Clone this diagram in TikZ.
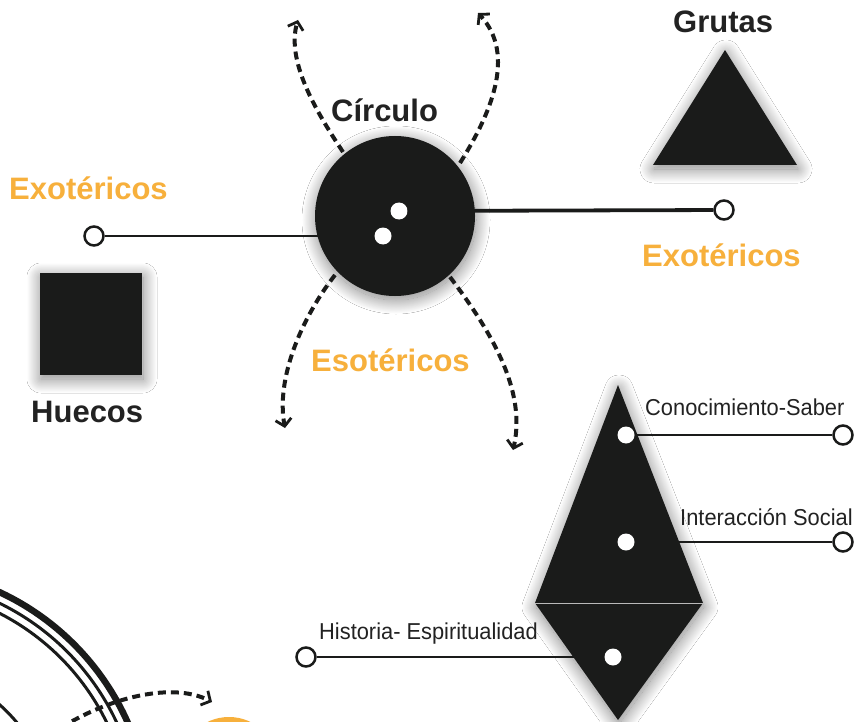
\documentclass[tikz,border=0pt]{standalone}
\usepackage{fontspec}
\setmainfont{Liberation Sans}
\usetikzlibrary{arrows.meta,shadows.blur}
\definecolor{ink}{HTML}{1A1B1A}
\definecolor{orng}{HTML}{F7B03C}
\definecolor{txt}{HTML}{222222}
\tikzset{
 shape shadow/.style={blur shadow={shadow xshift=1pt, shadow yshift=-4pt, shadow blur radius=14pt, shadow blur steps=40, shadow opacity=50}},
 bold label/.style={font=\fontsize{31}{31}\selectfont\bfseries, text=txt, inner sep=0pt, anchor=base west},
 orange label/.style={bold label, text=orng},
 small label/.style={font=\fontsize{23}{23}\selectfont, text=txt, inner sep=0pt, anchor=base west},
 dot/.style={circle, fill=white, minimum size=17pt, inner sep=0pt},
 endring/.style={circle, draw=ink, line width=2.5pt, fill=white, minimum size=19pt, inner sep=0pt},
 link/.style={draw=ink, line width=2.5pt},
 flow/.style={draw=ink, line width=4pt, dash pattern=on 8pt off 5pt, -{Straight Barb[length=7pt,width=16pt,line width=2.8pt]}},
}
\begin{document}
\begin{tikzpicture}[x=1pt,y=-1pt]
\fill[white] (0,0) rectangle (859,722);
\useasboundingbox (0,0) rectangle (859,722);

% concentric arcs bottom left and orange disc
\begin{scope}
\clip (0,0) rectangle (859,722);
\draw[ink, line width=6.5pt] (-110,828) circle[radius=260pt];
\draw[ink, line width=3pt] (-110,828) circle[radius=250pt];
\draw[ink, line width=3pt] (-110,828) circle[radius=241pt];
\draw[ink, line width=3pt] (-110,828) circle[radius=165pt];
\fill[orng] (229,766) circle[radius=49pt];
\fill[gray] (229,766) circle[radius=44pt];
\coordinate (bs) at (50,735);
\coordinate (be) at (212,702);
\draw[flow] (bs) .. controls (100,700) and (170,680) .. (be);
\end{scope}

% shapes
\node[circle, fill=ink, minimum size=160pt, inner sep=0pt, shape shadow] (circ) at (395,216) {};
\fill[ink, shape shadow] (725,50) -- (797,165) -- (653,165) -- cycle;
\node[fill=ink, minimum size=102pt, inner sep=0pt, shape shadow] (sq) at (91,324) {};
\fill[ink, shape shadow] (618,385) -- (703,603) -- (618,720) -- (535,603) -- cycle;
\draw[gray!55, line width=1.5pt] (535,603.5) -- (703,603.5);

% labels
\node[bold label] (tcirc) at (331,122) {Círculo};
\node[bold label] (tgrut) at (673,33) {Grutas};
\node[bold label] (thue) at (31,422) {Huecos};
\node[orange label] (texl) at (9,200) {Exotéricos};
\node[orange label] (texr) at (642,266) {Exotéricos};
\node[orange label] (tesot) at (311,371) {Esotéricos};
\node[small label] (tcon) at (645,415) {\scalebox{0.95}[1]{Conocimiento-Saber}};
\node[small label] (tint) at (680,525) {\scalebox{0.95}[1]{Interacción Social}};
\node[small label] (this) at (319,639) {\scalebox{0.95}[1]{Historia- Espiritualidad}};

% dashed arrows around the circle
\coordinate (a1s) at (343,152); \coordinate (a1e) at (298,20);
\coordinate (a2s) at (460,163); \coordinate (a2e) at (478,13);
\coordinate (a3s) at (335,275); \coordinate (a3e) at (285,428);
\coordinate (a4s) at (450,277); \coordinate (a4e) at (513,450);
\draw[flow] (a1s) .. controls (315,110) and (286,60) .. (a1e);
\draw[flow] (a2s) .. controls (490,115) and (517,55) .. (a2e);
\draw[flow] (a3s) .. controls (300,320) and (276,380) .. (a3e);
\draw[flow] (a4s) .. controls (490,330) and (527,390) .. (a4e);

% dots and rings
\node[dot] (d1) at (399,211) {};
\node[dot] (d2) at (383,236) {};
\node[endring] (e1) at (724,210) {};
\node[endring] (e2) at (94,236) {};
\node[dot] (k1) at (626,435) {};
\node[dot] (k2) at (626,542) {};
\node[dot] (k3) at (613,657) {};
\node[endring] (r1) at (843,435) {};
\node[endring] (r2) at (843,542) {};
\node[endring] (r3) at (306,657) {};
\draw[link, line width=3.8pt] (d1) -- (e1);
\draw[link] (d2) -- (e2);
\draw[link] (k1) -- (r1);
\draw[link] (k2) -- (r2);
\draw[link] (k3) -- (r3);
\end{tikzpicture}
\end{document}
